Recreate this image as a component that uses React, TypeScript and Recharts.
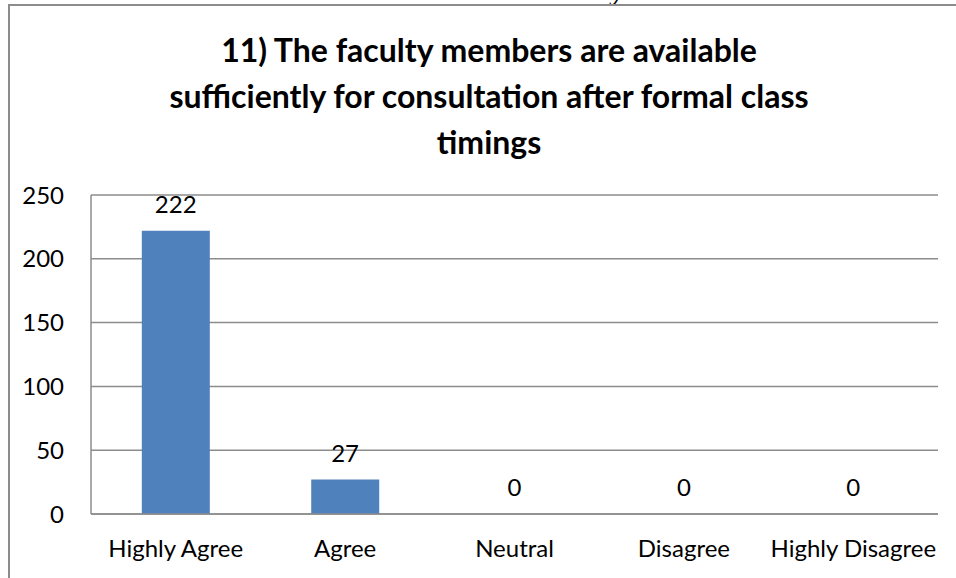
import { ComposedChart, Bar, Line, XAxis, YAxis, CartesianGrid, LabelList } from "recharts";

const categories = ["Highly Agree", "Agree", "Neutral", "Disagree", "Highly Disagree"];
const responses = [222, 27, 0, 0, 0];
const yTicks = [0, 50, 100, 150, 200, 250];
const titleLines = [
    "11) The faculty members are available",
    "sufficiently for consultation after formal class",
    "timings",
];

const data = categories.map((name, i) => ({ name, value: responses[i] }));

const FONT = "Lato, 'Open Sans', sans-serif";

export default function App() {
    return (
        <div
            style={{
                position: "absolute",
                left: 0,
                top: 0,
                width: 956,
                height: 578,
                overflow: "hidden",
                background: "#fff",
                fontFamily: FONT,
            }}
        >
            {/* tail of a letter from the page above, cut off by the crop */}
            <div
                style={{
                    position: "absolute",
                    left: 612,
                    top: -24,
                    fontFamily: "'Liberation Serif', serif",
                    fontWeight: 700,
                    fontStyle: "italic",
                    fontSize: 28,
                    lineHeight: "30px",
                    color: "#000",
                }}
            >
                y
            </div>
            <div
                style={{
                    position: "absolute",
                    left: 8,
                    top: 4,
                    width: 970,
                    height: 600,
                    border: "2px solid #8c8c8c",
                    boxSizing: "border-box",
                }}
            />
            <div
                style={{
                    position: "absolute",
                    left: 39,
                    top: 27,
                    width: 900,
                    textAlign: "center",
                    fontWeight: 700,
                    fontSize: 32,
                    lineHeight: "46px",
                    color: "#000",
                }}
            >
                {titleLines.map((l) => (
                    <div key={l} style={{ whiteSpace: "nowrap" }}>
                        {l}
                    </div>
                ))}
            </div>
            <div style={{ position: "absolute", left: 0, top: 0 }}>
                <ComposedChart
                    width={956}
                    height={578}
                    data={data}
                    margin={{ top: 195, right: 18, bottom: 34, left: 8 }}
                    barCategoryGap="30%"
                >
                    <CartesianGrid vertical={false} stroke="#8c8c8c" strokeWidth={1.5} />
                    <XAxis
                        dataKey="name"
                        height={30}
                        axisLine={{ stroke: "#8c8c8c", strokeWidth: 1.5 }}
                        tickLine={false}
                        tickSize={0}
                        tickMargin={26}
                        interval={0}
                        tick={{ fill: "#000", fontSize: 24, fontFamily: FONT }}
                    />
                    <YAxis
                        width={83}
                        domain={[0, 250]}
                        ticks={yTicks}
                        axisLine={{ stroke: "#8c8c8c", strokeWidth: 1.5 }}
                        tickLine={false}
                        tickSize={0}
                        tickMargin={27}
                        tick={{ fill: "#000", fontSize: 24, fontFamily: FONT }}
                    />
                    <Bar dataKey="value" fill="#4f81bd" isAnimationActive={false} />
                    {/* invisible series so that zero values get their labels too */}
                    <Line
                        dataKey="value"
                        stroke="none"
                        dot={false}
                        activeDot={false}
                        legendType="none"
                        isAnimationActive={false}
                    >
                        <LabelList
                            dataKey="value"
                            position="top"
                            offset={18}
                            fill="#000"
                            fontSize={24}
                            fontFamily={FONT}
                        />
                    </Line>
                </ComposedChart>
            </div>
        </div>
    );
}
